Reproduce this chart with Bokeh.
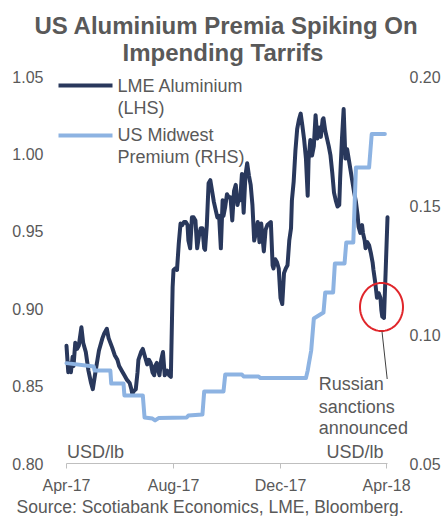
import numpy as np
import pandas as pd
from bokeh.plotting import figure
from bokeh.models import (Range1d, LinearAxis, FixedTicker, Label, Arrow,
                          PolyAnnotation, DatetimeTickFormatter, NumeralTickFormatter)
from bokeh.embed import file_html
from bokeh.resources import INLINE

# ---------------- data ----------------
start_date = "2017-04-01"
end_date = "2018-04-02"

lme_days = [0, 2, 3, 5, 7, 8, 10, 12, 14, 17, 19, 22, 25, 28, 30, 33, 37, 41, 43, 46,
            48, 52, 55, 58, 60, 64, 66, 69, 72, 74, 75, 77, 79, 81, 82, 85, 87, 90, 92, 94,
            96, 98, 100, 101, 103, 105, 106, 108, 110, 112, 115, 117, 119, 121, 122, 124, 126, 128, 130, 132,
            134, 136, 138, 139, 141, 143, 145, 147, 149, 151, 153, 155, 157, 158, 160, 162, 164, 166, 168, 172,
            174, 176, 178, 179, 181, 183, 185, 187, 189, 191, 193, 195, 197, 198, 200, 202, 204, 206, 208, 210,
            212, 214, 216, 218, 219, 220, 222, 225, 227, 229, 231, 233, 235, 236, 238, 240, 242, 244, 246, 248,
            250, 252, 254, 256, 257, 259, 261, 263, 265, 267, 269, 271, 273, 275, 276, 278, 280, 282, 284, 286,
            288, 290, 292, 293, 295, 297, 299, 301, 303, 305, 307, 309, 311, 312, 314, 316, 318, 320, 322, 324,
            326, 328, 330, 332, 333, 335, 337, 338, 340, 341, 343, 345, 347, 349, 350, 352, 354, 356, 358, 359,
            360, 362, 364, 366]
lme_values = [0.876, 0.859, 0.865, 0.859, 0.869, 0.863, 0.878, 0.874, 0.876, 0.888, 0.878, 0.872, 0.860, 0.852, 0.848, 0.859, 0.873, 0.881, 0.884, 0.887,
              0.881, 0.875, 0.870, 0.867, 0.863, 0.859, 0.857, 0.854, 0.852, 0.848, 0.845, 0.847, 0.848, 0.859, 0.867, 0.872, 0.874, 0.868, 0.864, 0.867,
              0.865, 0.859, 0.857, 0.863, 0.865, 0.859, 0.857, 0.867, 0.872, 0.857, 0.860, 0.857, 0.856, 0.914, 0.925, 0.926, 0.925, 0.942, 0.955, 0.954,
              0.956, 0.956, 0.954, 0.944, 0.939, 0.959, 0.959, 0.957, 0.939, 0.947, 0.952, 0.952, 0.939, 0.938, 0.954, 0.981, 0.983, 0.976, 0.969, 0.959,
              0.960, 0.939, 0.970, 0.960, 0.966, 0.974, 0.972, 0.972, 0.957, 0.976, 0.980, 0.967, 0.973, 0.970, 0.987, 0.962, 0.986, 0.994, 0.986, 0.980,
              0.967, 0.944, 0.949, 0.956, 0.951, 0.943, 0.955, 0.937, 0.951, 0.954, 0.955, 0.956, 0.928, 0.926, 0.932, 0.930, 0.926, 0.907, 0.903, 0.923,
              0.926, 0.928, 0.944, 0.952, 0.970, 0.982, 1.002, 1.016, 1.022, 1.026, 1.018, 1.009, 0.997, 0.973, 0.996, 1.009, 0.999, 1.005, 1.025, 1.010,
              1.017, 1.011, 1.022, 1.023, 1.015, 1.010, 1.005, 0.999, 0.988, 0.975, 0.970, 0.966, 0.967, 0.984, 1.009, 1.029, 0.997, 1.003, 0.996, 0.989,
              0.982, 0.975, 0.969, 0.960, 0.953, 0.949, 0.954, 0.949, 0.944, 0.939, 0.943, 0.941, 0.936, 0.930, 0.925, 0.917, 0.907, 0.910, 0.907, 0.899,
              0.895, 0.894, 0.926, 0.959]

mw_days = [0, 31, 32, 50, 51, 65, 66, 87, 89, 98, 101, 105, 137, 139, 155, 157, 179, 181, 200, 202,
           219, 221, 273, 275, 276, 279, 282, 293, 295, 304, 306, 317, 319, 327, 330, 345, 348, 363]
mw_values = [0.0889, 0.0876, 0.0860, 0.0860, 0.0810, 0.0810, 0.0764, 0.0764, 0.0678, 0.0674,
             0.0667, 0.0676, 0.0678, 0.0686, 0.0690, 0.0779, 0.0779, 0.0845, 0.0845, 0.0837,
             0.0837, 0.0831, 0.0831, 0.0860, 0.0880, 0.0938, 0.1062, 0.1085, 0.1163, 0.1163,
             0.1275, 0.1275, 0.1357, 0.1357, 0.1647, 0.1647, 0.1777, 0.1777]

x_tick_dates = ["2017-04-01", "2017-08-01", "2017-12-01", "2018-04-01"]
lhs_ticks = [0.80, 0.85, 0.90, 0.95, 1.00, 1.05]
rhs_ticks = [0.05, 0.10, 0.15, 0.20]

series_names = ["LME Aluminium", "(LHS)", "US Midwest", "Premium (RHS)"]
title_lines = ["US Aluminium Premia Spiking On", "Impending Tarrifs"]
note_lines = ["Russian", "sanctions", "announced"]
unit_label = "USD/lb"
source_text = "Source: Scotiabank Economics, LME, Bloomberg."

# ---------------- styling / layout ----------------
NAVY = "#29385C"
LIGHT = "#8DB3E2"
GREY = "#595959"
FONT = "Liberation Sans"
W, H = 442, 516
FL, FR, FT, FB = 66, 387, 76, 463   # plotting-area edges in page pixels

# The drawing frame covers the whole page so that texts outside the plotting
# area are not clipped; the axes are pinned to the plotting-area edges.
t0 = pd.Timestamp(start_date)
t1 = pd.Timestamp(end_date)
px_per_s = (FR - FL) / (t1 - t0).total_seconds()
x_lo = t0 - pd.Timedelta(seconds=FL / px_per_s)
x_hi = t1 + pd.Timedelta(seconds=(W - FR) / px_per_s)

def ext(lo, hi):
    per = (hi - lo) / (FB - FT)
    return lo - (H - FB) * per, hi + FT * per

ly0, ly1 = ext(lhs_ticks[0], lhs_ticks[-1])
ry0, ry1 = ext(rhs_ticks[0], rhs_ticks[-1])

lme_x = t0 + pd.to_timedelta(lme_days, unit="D")
mw_x = t0 + pd.to_timedelta(mw_days, unit="D")

p = figure(width=W, height=H, x_axis_type="datetime", output_backend="svg",
           toolbar_location=None, title=None,
           x_range=Range1d(x_lo, x_hi), y_range=Range1d(ly0, ly1),
           min_border=0, min_border_left=0, min_border_right=0,
           min_border_top=0, min_border_bottom=0)
p.extra_y_ranges = {"rhs": Range1d(ry0, ry1)}
p.outline_line_color = None
p.grid.visible = False
p.background_fill_color = "white"
p.border_fill_color = "white"

t0_ms = t0.value // 10**6
t1_ms = t1.value // 10**6
tick_ms = [pd.Timestamp(d).value // 10**6 for d in x_tick_dates]

xa = p.xaxis[0]
xa.ticker = FixedTicker(ticks=tick_ms)
xa.formatter = DatetimeTickFormatter(days="%b-%y", months="%b-%y", years="%b-%y")
xa.fixed_location = lhs_ticks[0]
xa.bounds = (t0_ms, t1_ms)
xa.axis_line_color = "#BFBFBF"
xa.major_tick_line_color = "#BFBFBF"
xa.major_tick_out = 5
xa.major_tick_in = 0
xa.minor_tick_line_color = None
xa.major_label_standoff = 8

ya = p.yaxis[0]
ya.ticker = FixedTicker(ticks=lhs_ticks)
ya.formatter = NumeralTickFormatter(format="0.00")
ya.fixed_location = t0_ms
ya.axis_line_color = None
ya.major_tick_line_color = None
ya.minor_tick_line_color = None
ya.major_label_standoff = 17

ra = LinearAxis(y_range_name="rhs", ticker=FixedTicker(ticks=rhs_ticks),
                formatter=NumeralTickFormatter(format="0.00"))
ra.fixed_location = t1_ms
ra.axis_line_color = None
ra.major_tick_line_color = None
ra.minor_tick_line_color = None
ra.major_label_standoff = 16
p.add_layout(ra, "right")

for ax in (xa, ya, ra):
    ax.major_label_text_font = FONT
    ax.major_label_text_font_size = "16px"
    ax.major_label_text_color = GREY

# series
p.line(lme_x, lme_values, line_color=NAVY, line_width=4, line_join="round", line_cap="round")
p.line(mw_x, mw_values, line_color=LIGHT, line_width=4, line_join="round", line_cap="round",
       y_range_name="rhs")

# page pixels -> frame screen units (y measured upward from the bottom)
def sx(px):
    return px

def sy(py):
    return H - py

def text(px, py, s, size=18, align="left", style="normal"):
    # py is the wanted baseline; compensate the renderer's baseline offset
    p.add_layout(Label(x=sx(px), y=sy(py - 0.3 * size), x_units="screen", y_units="screen",
                       text=s, text_font=FONT, text_font_size=f"{size}px", text_color=GREY,
                       text_align=align, text_baseline="alphabetic", text_font_style=style))

# title
text(226, 31.7, title_lines[0], size=24, align="center", style="bold")
text(222.5, 59.3, title_lines[1], size=24, align="center", style="bold")

# legend
for yy, col in ((85, NAVY), (135, LIGHT)):
    p.add_layout(Arrow(end=None, start=None, x_start=sx(58), y_start=sy(yy),
                       x_end=sx(112), y_end=sy(yy), start_units="screen", end_units="screen",
                       line_color=col, line_width=4))
text(117, 90.5, series_names[0])
text(117, 113, series_names[1])
text(117, 140, series_names[2])
text(117, 162, series_names[3])

# units
text(66.5, 457.3, unit_label)
text(326, 456.7, unit_label)

# annotation
theta = np.linspace(0, 2 * np.pi, 73)
p.add_layout(PolyAnnotation(xs=list(sx(381 + 21.5 * np.cos(theta))),
                            ys=list(sy(306.5 + 24 * np.sin(theta))),
                            xs_units="screen", ys_units="screen",
                            fill_color=None, fill_alpha=0, line_color="#E0262B",
                            line_alpha=1, line_width=2))
p.add_layout(Arrow(end=None, start=None, x_start=sx(381.5), y_start=sy(331),
                   x_end=sx(386.7), y_end=sy(378.5), start_units="screen", end_units="screen",
                   line_color="#404040", line_width=1))
text(318.3, 389.3, note_lines[0])
text(318.3, 411.5, note_lines[1])
text(318.3, 433.3, note_lines[2])

# source
text(16, 511.5, source_text, size=17.5)

open("out.html", "w").write(file_html(p, INLINE))
